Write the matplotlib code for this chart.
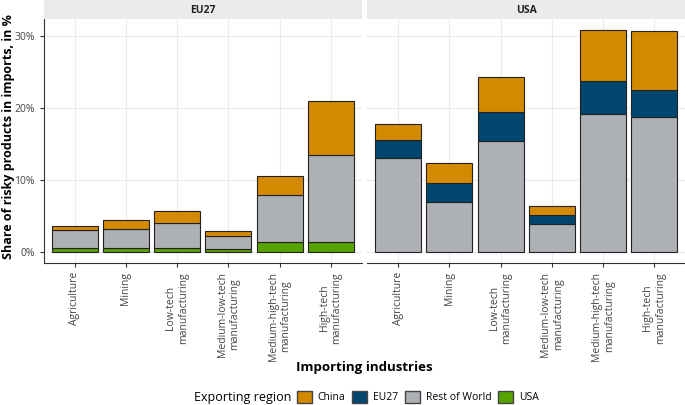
import matplotlib.pyplot as plt
from matplotlib.patches import Patch
from matplotlib.ticker import FuncFormatter

plt.rcParams['font.family'] = ['Open Sans', 'DejaVu Sans']

industries = ['Agriculture', 'Mining', 'Low-tech\nmanufacturing',
              'Medium-low-tech\nmanufacturing', 'Medium-high-tech\nmanufacturing',
              'High-tech\nmanufacturing']
regions = ['China', 'EU27', 'Rest of World', 'USA']
colors = {'China': '#D48A00', 'EU27': '#00466F',
          'Rest of World': '#ADB0B4', 'USA': '#56A300'}

# shares in %, per importing region (panel) and exporting region
eu27_usa = [0.56, 0.50, 0.60, 0.37, 1.39, 1.39]
eu27_row = [2.44, 2.70, 3.47, 1.81, 6.48, 12.13]
eu27_china = [0.60, 1.24, 1.62, 0.74, 2.69, 7.48]

usa_row = [13.0, 6.99, 15.42, 3.94, 19.12, 18.75]
usa_eu27 = [2.6, 2.59, 4.02, 1.20, 4.68, 3.80]
usa_china = [2.18, 2.82, 4.91, 1.25, 7.03, 8.19]

panels = {
    'EU27': [('USA', eu27_usa), ('Rest of World', eu27_row), ('China', eu27_china)],
    'USA': [('Rest of World', usa_row), ('EU27', usa_eu27), ('China', usa_china)],
}

fig = plt.figure(figsize=(6.85, 4.05), dpi=100)
W, H = 685, 405
boxes = {'EU27': (44, 361.5), 'USA': (367.5, 685)}
top, bottom, strip_h = 19, 263, 19

x = list(range(1, len(industries) + 1))
for name, (x0, x1) in boxes.items():
    ax = fig.add_axes([x0 / W, 1 - bottom / H, (x1 - x0) / W, (bottom - top) / H])
    base = [0] * len(x)
    for reg, vals in panels[name]:
        ax.bar(x, vals, bottom=base, width=0.9, color=colors[reg],
               edgecolor='#222222', linewidth=0.8, zorder=3)
        base = [b + v for b, v in zip(base, vals)]
    ax.set_xlim(0.4, 6.6)
    ax.set_ylim(-1.55, 32.4)
    ax.set_yticks([0, 10, 20, 30])
    ax.yaxis.set_major_formatter(FuncFormatter(lambda v, p: f'{v:.0f}%'))
    ax.set_xticks(x)
    ax.set_xticklabels(industries, rotation=90, fontsize=7.5, color='#444444',
                       multialignment='center')
    ax.grid(True, color='#EBEBEB', linewidth=0.8, zorder=0)
    for s in ['top', 'right']:
        ax.spines[s].set_visible(False)
    ax.spines['bottom'].set_color('#333333')
    ax.tick_params(axis='both', length=3, color='#333333', labelsize=7.5,
                   labelcolor='#444444')
    if name == 'EU27':
        ax.spines['left'].set_color('#333333')
    else:
        ax.spines['left'].set_visible(False)
        ax.tick_params(axis='y', left=False, labelleft=False)
    # facet strip
    sax = fig.add_axes([x0 / W, 1 - top / H, (x1 - x0) / W, strip_h / H])
    sax.set_facecolor('#EBEBEB')
    sax.set_xticks([])
    sax.set_yticks([])
    for s in sax.spines.values():
        s.set_visible(False)
    sax.text(0.5, 0.45, name, ha='center', va='center', fontsize=7.5,
             fontweight='bold', color='#222222', transform=sax.transAxes)

fig.text(9 / W, 1 - 137 / H, 'Share of risky products in imports, in %',
         rotation=90, ha='center', va='center', fontsize=9, fontweight='bold')
fig.text(364 / W, 1 - 368 / H, 'Importing industries', ha='center',
         va='center', fontsize=9.5, fontweight='bold')

fig.text(291 / W, 1 - 397 / H, 'Exporting region', ha='right', va='center',
         fontsize=9)
handles = [Patch(facecolor=colors[r], edgecolor='#444444', label=r) for r in regions]
fig.legend(handles=handles, loc='center left',
           bbox_to_anchor=(297 / W, 1 - 397 / H), ncol=4, frameon=False,
           fontsize=7.5, handlelength=1.45, handleheight=1.35,
           columnspacing=0.65, handletextpad=0.55, borderpad=0,
           borderaxespad=0)

fig.savefig('out.png', dpi=100)
